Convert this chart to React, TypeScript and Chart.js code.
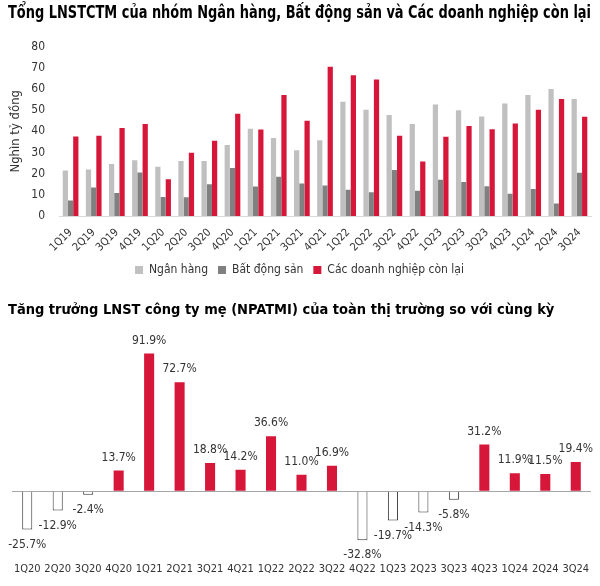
import React, { useEffect, useRef } from "react";
import { Chart, registerables } from "chart.js";

Chart.register(...registerables);

const FONT = '"Liberation Sans Narrow", "Arial Narrow", "DejaVu Sans Condensed", sans-serif';

const title1 = "Tổng LNSTCTM của nhóm Ngân hàng, Bất động sản và Các doanh nghiệp còn lại";
const title2 = "Tăng trưởng LNST công ty mẹ (NPATMI) của toàn thị trường so với cùng kỳ";

const quarters = [
  "1Q19", "2Q19", "3Q19", "4Q19", "1Q20", "2Q20", "3Q20", "4Q20",
  "1Q21", "2Q21", "3Q21", "4Q21", "1Q22", "2Q22", "3Q22", "4Q22",
  "1Q23", "2Q23", "3Q23", "4Q23", "1Q24", "2Q24", "3Q24",
];
const nganHang = [21.5, 22, 24.5, 26.3, 23.2, 26, 26, 33.5, 41.2, 36.8, 31, 35.8, 53.9, 50.2, 47.7, 43.4, 52.6, 49.9, 47, 53.1, 57.2, 60, 55.3];
const batDongSan = [7.3, 13.5, 10.9, 20.6, 9, 8.9, 15, 22.7, 13.9, 18.5, 15.4, 14.4, 12.4, 11.2, 21.7, 11.9, 17.1, 16, 14.1, 10.5, 12.7, 5.9, 20.4];
const conLai = [37.5, 37.9, 41.5, 43.4, 17.4, 29.9, 35.5, 48.3, 40.9, 57.2, 45, 70.5, 66.5, 64.5, 37.9, 25.7, 37.4, 42.5, 41, 43.7, 50.2, 55.3, 46.9];

const growthQuarters = [
  "1Q20", "2Q20", "3Q20", "4Q20", "1Q21", "2Q21", "3Q21", "4Q21",
  "1Q22", "2Q22", "3Q22", "4Q22", "1Q23", "2Q23", "3Q23", "4Q23",
  "1Q24", "2Q24", "3Q24",
];
const growth = [-25.7, -12.9, -2.4, 13.7, 91.9, 72.7, 18.8, 14.2, 36.6, 11.0, 16.9, -32.8, -19.7, -14.3, -5.8, 31.2, 11.9, 11.5, 19.4];

const RED = "#d7173a";
const LIGHT = "#c0c0c0";
const DARK = "#808080";
const TEXT = "#333333";

const valueLabels = {
  id: "valueLabels",
  afterDatasetsDraw(chart: any) {
    const ctx = chart.ctx;
    const meta = chart.getDatasetMeta(0);
    ctx.save();
    ctx.font = `12px ${FONT}`;
    ctx.fillStyle = TEXT;
    ctx.textAlign = "center";
    ctx.textBaseline = "middle";
    meta.data.forEach((bar: any, i: number) => {
      const v = growth[i];
      const y = v >= 0 ? bar.y - 13 : bar.y + 15;
      ctx.fillText(v.toFixed(1) + "%", bar.x, y);
    });
    ctx.restore();
  },
};

export default function App() {
  const topRef = useRef<HTMLCanvasElement>(null);
  const botRef = useRef<HTMLCanvasElement>(null);

  useEffect(() => {
    const c1 = new Chart(topRef.current!, {
      type: "bar",
      data: {
        labels: quarters,
        datasets: [
          { label: "Ngân hàng", data: nganHang, backgroundColor: LIGHT },
          { label: "Bất động sản", data: batDongSan, backgroundColor: DARK },
          { label: "Các doanh nghiệp còn lại", data: conLai, backgroundColor: RED },
        ],
      },
      options: {
        responsive: false,
        animation: false,
        devicePixelRatio: 1,
        datasets: { bar: { categoryPercentage: 0.68, barPercentage: 1.0 } },
        layout: { padding: { left: 8, right: 9, top: 0, bottom: 6 } },
        plugins: {
          title: {
            display: true,
            text: title1,
            align: "start",
            color: "#000",
            font: { family: FONT, size: 18, weight: "bold" },
            padding: { top: 3, bottom: 22 },
          },
          legend: {
            position: "bottom",
            labels: {
              boxWidth: 8,
              boxHeight: 8,
              padding: 10,
              color: TEXT,
              font: { family: FONT, size: 12 },
            },
          },
          tooltip: { enabled: false },
        },
        scales: {
          x: {
            grid: { display: false },
            border: { display: true, color: "#d9d9d9" },
            ticks: {
              autoSkip: false,
              minRotation: 45,
              maxRotation: 45,
              color: TEXT,
              font: { family: FONT, size: 11 },
              padding: 2,
            },
            afterFit(scale: any) {
              scale.height = 38;
            },
          },
          y: {
            min: 0,
            max: 80,
            grid: { display: false },
            border: { display: false },
            ticks: { stepSize: 10, color: TEXT, font: { family: FONT, size: 12 }, padding: 6 },
            title: {
              display: true,
              text: "Nghìn tỷ đồng",
              color: TEXT,
              font: { family: FONT, size: 13 },
              padding: 0,
            },
            afterFit(scale: any) {
              scale.width = 51;
            },
          },
        },
      },
    });

    const c2 = new Chart(botRef.current!, {
      type: "bar",
      data: {
        labels: growthQuarters,
        datasets: [
          {
            label: "NPATMI",
            data: growth,
            backgroundColor: (ctx: any) => (growth[ctx.dataIndex] < 0 ? "#ffffff" : RED),
            borderColor: (ctx: any) => (growth[ctx.dataIndex] < 0 ? "#333333" : RED),
            borderWidth: (ctx: any) => (growth[ctx.dataIndex] < 0 ? 1 : 0),
            categoryPercentage: 1,
            barPercentage: 0.33,
          },
        ],
      },
      options: {
        responsive: false,
        animation: false,
        devicePixelRatio: 1,
        layout: { padding: { left: 8, right: 9, top: 0, bottom: 0 } },
        plugins: {
          title: {
            display: true,
            text: title2,
            align: "start",
            color: "#000",
            font: { family: FONT, size: 14.5, weight: "bold" },
            padding: { top: 10, bottom: 22 },
          },
          legend: { display: false },
          tooltip: { enabled: false },
        },
        scales: {
          x: {
            grid: { display: false, drawTicks: false },
            border: { display: false },
            ticks: {
              autoSkip: false,
              minRotation: 0,
              maxRotation: 0,
              color: TEXT,
              font: { family: FONT, size: 11 },
              padding: 3,
            },
            afterFit(scale: any) {
              scale.height = 26;
            },
          },
          y: {
            min: -46,
            max: 100,
            ticks: { display: false },
            border: { display: false },
            grid: {
              drawTicks: false,
              color: (ctx: any) => (ctx.tick && ctx.tick.value === 0 ? "#a6a6a6" : "rgba(0,0,0,0)"),
            },
            afterFit(scale: any) {
              scale.width = 4;
            },
          },
        },
      },
      plugins: [valueLabels],
    });

    return () => {
      c1.destroy();
      c2.destroy();
    };
  }, []);

  return (
    <div style={{ position: "absolute", left: 0, top: 0, width: 600, height: 586, background: "#fff" }}>
      <canvas ref={topRef} width={600} height={292} style={{ display: "block" }} />
      <canvas ref={botRef} width={600} height={294} style={{ display: "block" }} />
    </div>
  );
}
